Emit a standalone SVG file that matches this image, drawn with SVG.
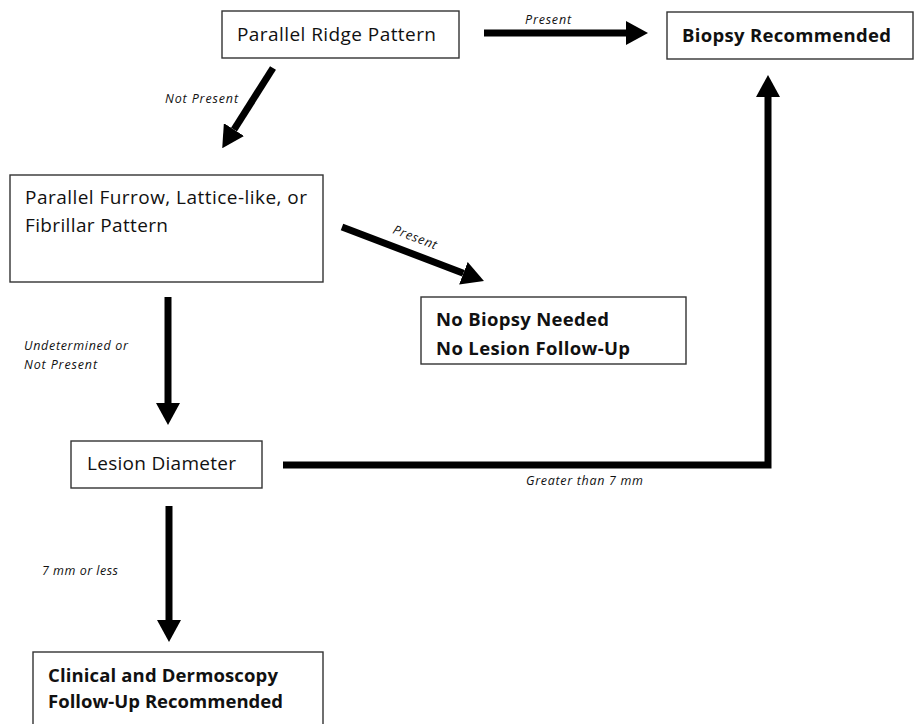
<svg xmlns="http://www.w3.org/2000/svg" width="914" height="724" viewBox="0 0 914 724">
<defs>
<style>
.box{fill:#fff;stroke:#333;stroke-width:1.4}
.t{font-family:"Open Sans","Liberation Sans",sans-serif;font-size:19px;fill:#111}
.b{font-family:"Open Sans","Liberation Sans",sans-serif;font-size:18.5px;font-weight:bold;fill:#111}
.l{font-family:"Open Sans","Liberation Sans",sans-serif;font-size:12.5px;font-style:italic;fill:#111}
.c{fill:none;stroke:#000;stroke-width:7}
</style>
<marker id="ah" viewBox="0 0 22 24" refX="0" refY="12" markerWidth="22" markerHeight="24" markerUnits="userSpaceOnUse" orient="auto">
<path d="M0,0 L22,12 L0,24 Z" fill="#000"/>
</marker>
</defs>
<rect width="914" height="724" fill="#fff"/>
<g id="connectors">
<line class="c" x1="484" y1="33" x2="626" y2="33" marker-end="url(#ah)"/>
<line class="c" x1="273" y1="68" x2="234" y2="129.6" marker-end="url(#ah)"/>
<line class="c" x1="342" y1="227" x2="463.4" y2="273.2" marker-end="url(#ah)"/>
<line class="c" x1="168" y1="297" x2="168" y2="403" marker-end="url(#ah)"/>
<line class="c" x1="169" y1="506" x2="169" y2="620" marker-end="url(#ah)"/>
<polyline class="c" points="283,465 768,465 768,97" stroke-linejoin="miter" marker-end="url(#ah)"/>
<text class="l" x="525" y="24" textLength="46">Present</text>
<text class="l" x="165" y="103" textLength="73">Not Present</text>
<text class="l" x="392" y="233" textLength="46" transform="rotate(21 392 233)">Present</text>
<text class="l" x="24" y="350" textLength="104">Undetermined or</text>
<text class="l" x="24" y="369" textLength="73">Not Present</text>
<text class="l" x="526" y="485" textLength="117">Greater than 7 mm</text>
<text class="l" x="42" y="575" textLength="76">7 mm or less</text>
</g>
<g id="n-ridge">
<rect class="box" x="222" y="11" width="237" height="47"/>
<text class="t" x="237" y="41" textLength="199">Parallel Ridge Pattern</text>
</g>
<g id="n-biopsy">
<rect class="box" x="667" y="12" width="246" height="47"/>
<text class="b" x="682" y="42" textLength="209">Biopsy Recommended</text>
</g>
<g id="n-furrow">
<rect class="box" x="10" y="175" width="313" height="107"/>
<text class="t" x="25" y="204" textLength="282">Parallel Furrow, Lattice-like, or</text>
<text class="t" x="25" y="232" textLength="143">Fibrillar Pattern</text>
</g>
<g id="n-nobiopsy">
<rect class="box" x="421" y="297" width="265" height="67"/>
<text class="b" x="436" y="326" textLength="173">No Biopsy Needed</text>
<text class="b" x="436" y="355" textLength="194">No Lesion Follow-Up</text>
</g>
<g id="n-diameter">
<rect class="box" x="71" y="441" width="191" height="47"/>
<text class="t" x="87" y="470" textLength="149">Lesion Diameter</text>
</g>
<g id="n-followup">
<rect class="box" x="33" y="652" width="290" height="80"/>
<text class="b" x="48" y="682" textLength="230">Clinical and Dermoscopy</text>
<text class="b" x="48" y="708" textLength="235">Follow-Up Recommended</text>
</g>
</svg>
